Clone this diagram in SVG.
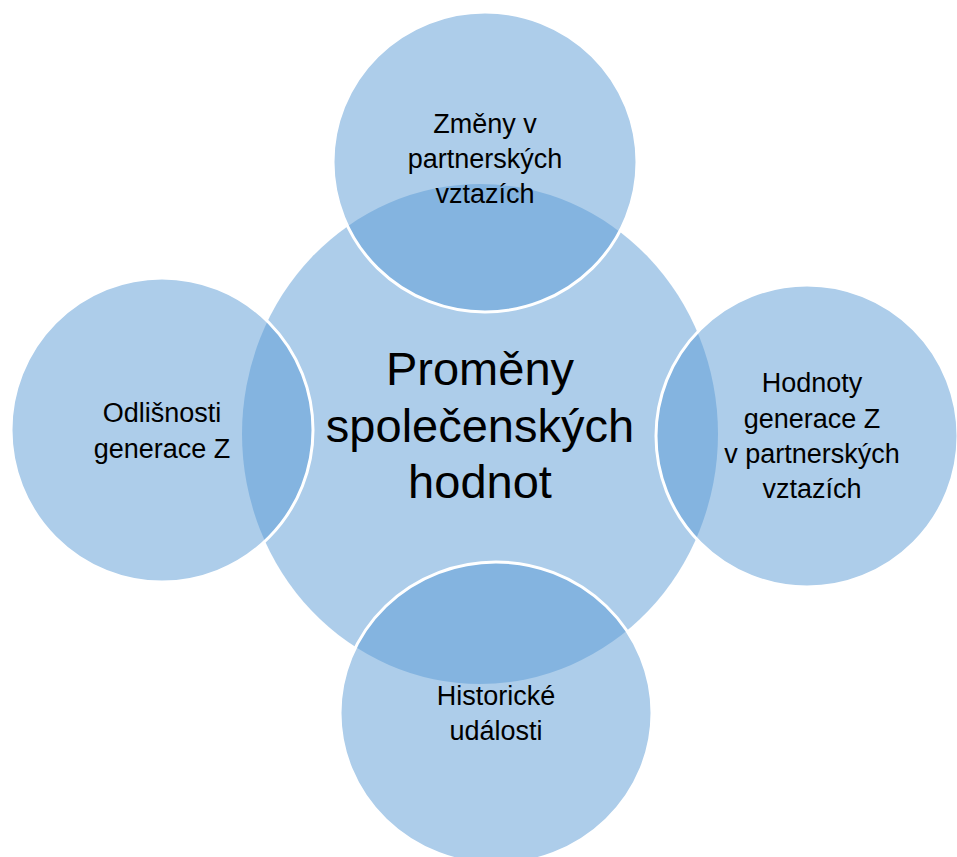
<svg xmlns="http://www.w3.org/2000/svg" width="957" height="857" viewBox="0 0 957 857">
<style>
.c{fill:#5B9BD5;fill-opacity:0.5}
.s{fill:#5B9BD5;fill-opacity:0.5;stroke:#FFFFFF;stroke-width:3}
.t{font-family:"Liberation Sans",Arial,sans-serif;font-size:27px;fill:#000;text-anchor:middle}
.m{font-family:"Liberation Sans",Arial,sans-serif;font-size:47px;fill:#000;text-anchor:middle}
</style>
<rect width="957" height="857" fill="#FFFFFF"/>
<g id="center">
<ellipse class="c" cx="480" cy="434" rx="238" ry="250"/>
<text class="m" x="480" y="385">Proměny</text>
<text class="m" x="480" y="442">společenských</text>
<text class="m" x="480" y="498">hodnot</text>
</g>
<g id="top">
<ellipse class="s" cx="485" cy="162" rx="152" ry="150"/>
<text class="t" x="485" y="133">Změny v</text>
<text class="t" x="485" y="168">partnerských</text>
<text class="t" x="485" y="203">vztazích</text>
</g>
<g id="left">
<ellipse class="s" cx="162" cy="430" rx="151" ry="152"/>
<text class="t" x="162" y="422">Odlišnosti</text>
<text class="t" x="162" y="458">generace Z</text>
</g>
<g id="right">
<ellipse class="s" cx="807" cy="436" rx="151" ry="151"/>
<text class="t" x="812" y="392">Hodnoty</text>
<text class="t" x="812" y="428">generace Z</text>
<text class="t" x="812" y="463">v partnerských</text>
<text class="t" x="812" y="498">vztazích</text>
</g>
<g id="bottom">
<ellipse class="s" cx="496" cy="713" rx="156" ry="151"/>
<text class="t" x="496" y="705">Historické</text>
<text class="t" x="496" y="740">události</text>
</g>
</svg>
